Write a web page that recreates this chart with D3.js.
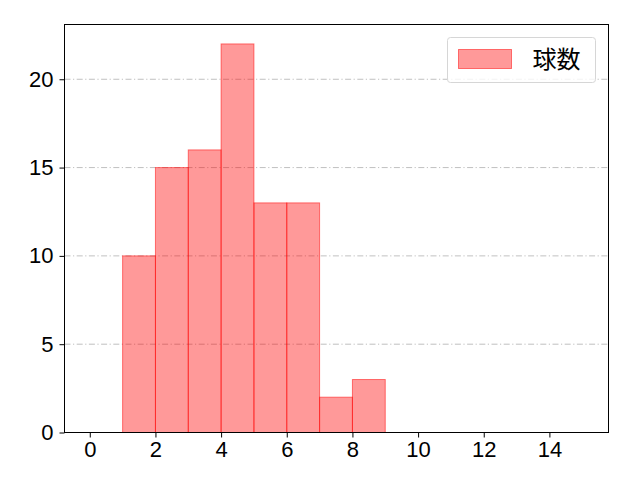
<!DOCTYPE html>
<html lang="ja">
<head>
  <meta charset="UTF-8">
  <title>球数</title>
  <style>
    body { margin: 0; background: #fff; }
    svg { font-family: "Noto Sans CJK JP", "DejaVu Sans", sans-serif; }
    .axis text { font-size: 22px; fill: #000; }
    .axis path, .axis line { stroke: #000; stroke-width: 1; }
    .grid line { stroke: #b0b0b0; stroke-width: 0.8; stroke-dasharray: 6,2.5,1.2,2.5; }
    .bar { fill: #ff0000; fill-opacity: 0.4; stroke: #ff0000; stroke-opacity: 0.5; stroke-width: 1; }
  </style>
  <script src="https://cdn.jsdelivr.net/npm/d3@7"></script>
</head>
<body>
<div id="chart"></div>
<script>
var binStarts = [1, 2, 3, 4, 5, 6, 7, 8];
var counts = [10, 15, 16, 22, 13, 13, 2, 3];
var xTicks = [0, 2, 4, 6, 8, 10, 12, 14];
var yTicks = [0, 5, 10, 15, 20];
var seriesName = "球数";

var width = 640, height = 480,
  margin = {top: 24.5, right: 31.5, bottom: 47.5, left: 64.5};

var svg = d3.select("#chart").append("svg")
  .attr("width", width)
  .attr("height", height);

var w = width - margin.left - margin.right,
  h = height - margin.top - margin.bottom;

var x = d3.scaleLinear().domain([-0.77, 15.8]).range([0, w]);
var y = d3.scaleLinear().domain([0, 23.1]).range([h, 0]);

var g = svg.append("g")
  .attr("transform", "translate(" + margin.left + "," + margin.top + ")");

// horizontal grid
g.append("g")
  .attr("class", "grid")
  .selectAll("line")
  .data(yTicks.filter(function (d) { return d > 0; }))
  .enter().append("line")
  .attr("x1", 0)
  .attr("x2", w)
  .attr("y1", function (d) { return y(d); })
  .attr("y2", function (d) { return y(d); });

g.append("g")
  .selectAll("rect")
  .data(binStarts)
  .enter().append("rect")
  .attr("class", "bar")
  .attr("x", function (d) { return x(d); })
  .attr("width", function (d) { return x(d + 1) - x(d); })
  .attr("y", function (d, i) { return y(counts[i]); })
  .attr("height", function (d, i) { return y(0) - y(counts[i]); });

g.append("g")
  .attr("class", "axis")
  .attr("transform", "translate(0," + h + ")")
  .call(d3.axisBottom(x).tickValues(xTicks).tickSize(5).tickPadding(4).tickFormat(d3.format("d")))
  .call(function (s) { s.select(".domain").remove(); });

g.append("g")
  .attr("class", "axis")
  .call(d3.axisLeft(y).tickValues(yTicks).tickSize(5).tickPadding(6).tickFormat(d3.format("d")))
  .call(function (s) { s.select(".domain").remove(); });

// frame
g.append("rect")
  .attr("width", w)
  .attr("height", h)
  .attr("fill", "none")
  .attr("stroke", "#000")
  .attr("stroke-width", 1);

// legend
var lg = g.append("g")
  .attr("transform", "translate(" + (w - 161) + ",13)");
lg.append("rect")
  .attr("width", 148)
  .attr("height", 45)
  .attr("rx", 3)
  .attr("fill", "#fff")
  .attr("fill-opacity", 0.8)
  .attr("stroke", "#d6d6d6");
lg.append("rect")
  .attr("class", "bar")
  .attr("x", 11)
  .attr("y", 12)
  .attr("width", 53)
  .attr("height", 19);
lg.append("text")
  .attr("x", 85)
  .attr("y", 30.5)
  .attr("font-size", 24)
  .text(seriesName);
</script>
</body>
</html>
